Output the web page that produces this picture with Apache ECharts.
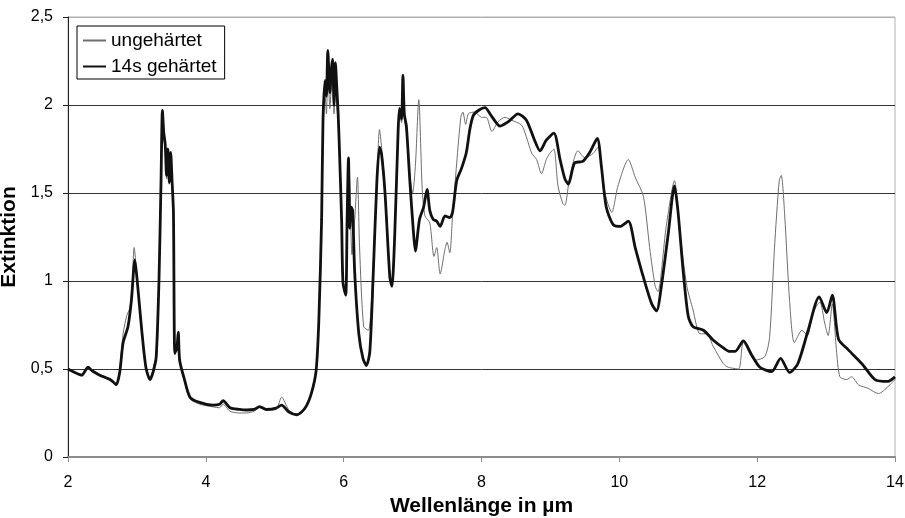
<!DOCTYPE html>
<html>
<head>
<meta charset="utf-8">
<script src="https://cdn.jsdelivr.net/npm/echarts@6/dist/echarts.min.js"></script>
<style>
  html, body { margin: 0; padding: 0; background: #fff; }
  #chart { width: 905px; height: 518px; }
</style>
</head>
<body>
<div id="chart"></div>
<script>
// Extinction spectra: untreated sample vs. sample cured for 14 s
const seriesNames = ['ungehärtet', '14s gehärtet'];

const xTicks = [2, 4, 6, 8, 10, 12, 14];
const yTicks = [0, 0.5, 1, 1.5, 2, 2.5];

// ungehärtet — wavelength (µm) and extinction
const untreatedX = [
  2.00, 2.10, 2.20, 2.25, 2.29, 2.35, 2.46, 2.55, 2.61, 2.66, 2.70, 2.75, 2.80, 2.85, 2.90, 2.93, 2.96, 3.00,
  3.07, 3.13, 3.19, 3.25, 3.29, 3.32, 3.35, 3.37, 3.39, 3.41, 3.43, 3.45, 3.47, 3.49, 3.51, 3.53, 3.55, 3.60,
  3.62, 3.69, 3.77, 3.91, 4.10, 4.20, 4.25, 4.35, 4.49, 4.59, 4.70, 4.78, 4.88, 5.02, 5.10, 5.20, 5.32, 5.44,
  5.53, 5.60, 5.64, 5.68, 5.70, 5.73, 5.75, 5.77, 5.80, 5.82, 5.84, 5.86, 5.88, 5.90, 5.92, 5.94, 5.97, 5.99,
  6.03, 6.05, 6.07, 6.09, 6.12, 6.16, 6.20, 6.23, 6.29, 6.36, 6.42, 6.48, 6.52, 6.55, 6.60, 6.67, 6.70, 6.74,
  6.79, 6.81, 6.84, 6.86, 6.88, 6.91, 6.96, 7.00, 7.04, 7.09, 7.14, 7.18, 7.25, 7.31, 7.35, 7.40, 7.47, 7.50,
  7.54, 7.58, 7.64, 7.70, 7.73, 7.77, 7.81, 7.90, 8.00, 8.07, 8.15, 8.24, 8.34, 8.43, 8.58, 8.65, 8.73, 8.80,
  8.87, 8.94, 8.99, 9.05, 9.11, 9.18, 9.21, 9.28, 9.40, 9.50, 9.62, 9.69, 9.79, 9.89, 9.98, 10.13, 10.23, 10.35,
  10.44, 10.52, 10.56, 10.68, 10.80, 10.88, 10.98, 11.07, 11.17, 11.27, 11.36, 11.51, 11.58, 11.73, 11.80, 11.97, 12.11, 12.18,
  12.25, 12.32, 12.35, 12.40, 12.47, 12.54, 12.65, 12.73, 12.81, 12.91, 12.98, 13.03, 13.09, 13.15, 13.20, 13.30, 13.37, 13.47,
  13.61, 13.76, 13.90, 14.00
];
const untreatedY = [
  0.50, 0.48, 0.47, 0.49, 0.50, 0.49, 0.47, 0.455, 0.445, 0.43, 0.415, 0.50, 0.70, 0.80, 0.85, 0.98, 1.19, 1.02,
  0.72, 0.50, 0.44, 0.53, 0.58, 1.00, 1.55, 1.95, 1.80, 1.76, 1.58, 1.72, 1.55, 1.70, 1.55, 1.35, 0.58, 0.68,
  0.54, 0.43, 0.33, 0.30, 0.285, 0.28, 0.30, 0.26, 0.25, 0.25, 0.26, 0.28, 0.265, 0.27, 0.34, 0.27, 0.235, 0.27,
  0.36, 0.49, 0.78, 1.35, 1.90, 2.05, 1.95, 2.22, 1.98, 2.10, 2.18, 1.95, 2.12, 2.00, 1.90, 1.70, 1.33, 1.00,
  0.95, 1.40, 1.70, 1.55, 1.15, 1.35, 1.59, 1.20, 0.74, 0.72, 1.02, 1.55, 1.86, 1.76, 1.52, 1.03, 0.98, 1.25,
  1.85, 1.95, 1.90, 2.00, 1.92, 1.85, 1.60, 1.50, 1.65, 2.03, 1.52, 1.37, 1.33, 1.14, 1.19, 1.04, 1.18, 1.22,
  1.16, 1.37, 1.67, 1.93, 1.96, 1.89, 1.95, 1.96, 1.93, 1.93, 1.85, 1.905, 1.93, 1.915, 1.886, 1.82, 1.725, 1.69,
  1.61, 1.69, 1.725, 1.75, 1.54, 1.44, 1.43, 1.59, 1.74, 1.70, 1.725, 1.76, 1.50, 1.39, 1.54, 1.69, 1.59, 1.48,
  1.19, 0.97, 0.94, 1.31, 1.57, 1.27, 0.97, 0.835, 0.70, 0.70, 0.63, 0.53, 0.51, 0.50, 0.65, 0.55, 0.57, 0.68,
  1.18, 1.57, 1.60, 1.37, 0.89, 0.65, 0.72, 0.69, 0.82, 0.88, 0.76, 0.69, 0.87, 0.61, 0.456, 0.44, 0.456, 0.41,
  0.39, 0.36, 0.40, 0.44
];

// 14s gehärtet — wavelength (µm) and extinction
const curedX = [
  2.00, 2.10, 2.20, 2.25, 2.29, 2.35, 2.46, 2.55, 2.61, 2.66, 2.70, 2.75, 2.80, 2.87, 2.92, 2.97, 3.00, 3.07,
  3.13, 3.19, 3.24, 3.28, 3.32, 3.35, 3.37, 3.39, 3.41, 3.43, 3.45, 3.47, 3.49, 3.51, 3.53, 3.55, 3.58, 3.60,
  3.62, 3.69, 3.77, 3.91, 4.10, 4.20, 4.25, 4.35, 4.49, 4.59, 4.70, 4.78, 4.88, 5.02, 5.10, 5.20, 5.32, 5.44,
  5.53, 5.60, 5.64, 5.68, 5.70, 5.73, 5.75, 5.77, 5.80, 5.82, 5.84, 5.86, 5.88, 5.90, 5.92, 5.94, 5.97, 5.99,
  6.03, 6.05, 6.07, 6.09, 6.11, 6.13, 6.16, 6.22, 6.28, 6.33, 6.38, 6.43, 6.48, 6.52, 6.55, 6.60, 6.67, 6.70,
  6.74, 6.79, 6.81, 6.84, 6.86, 6.88, 6.91, 6.96, 7.01, 7.04, 7.10, 7.16, 7.21, 7.25, 7.30, 7.35, 7.40, 7.47,
  7.54, 7.58, 7.64, 7.71, 7.78, 7.83, 7.88, 7.96, 8.05, 8.14, 8.27, 8.39, 8.53, 8.65, 8.77, 8.85, 8.94, 9.05,
  9.14, 9.21, 9.26, 9.35, 9.47, 9.57, 9.68, 9.74, 9.81, 9.91, 10.01, 10.13, 10.23, 10.35, 10.47, 10.54, 10.61, 10.71,
  10.80, 10.85, 10.93, 11.00, 11.07, 11.22, 11.36, 11.51, 11.60, 11.68, 11.80, 11.92, 12.04, 12.21, 12.34, 12.47, 12.59, 12.74,
  12.90, 13.01, 13.09, 13.18, 13.32, 13.52, 13.71, 13.90, 14.00
];
const curedY = [
  0.50, 0.48, 0.465, 0.49, 0.51, 0.49, 0.465, 0.45, 0.44, 0.425, 0.41, 0.48, 0.65, 0.74, 0.89, 1.12, 1.02, 0.72,
  0.51, 0.44, 0.49, 0.57, 1.00, 1.57, 1.97, 1.84, 1.78, 1.60, 1.75, 1.56, 1.73, 1.57, 1.39, 0.59, 0.62, 0.71,
  0.55, 0.44, 0.34, 0.31, 0.295, 0.30, 0.32, 0.28, 0.27, 0.267, 0.27, 0.286, 0.27, 0.278, 0.295, 0.257, 0.24, 0.278,
  0.36, 0.49, 0.78, 1.35, 1.91, 2.14, 2.05, 2.31, 2.07, 2.20, 2.26, 2.00, 2.24, 2.10, 1.95, 1.73, 1.35, 0.99,
  0.92, 1.35, 1.70, 1.30, 1.42, 1.40, 1.05, 0.70, 0.56, 0.52, 0.60, 1.05, 1.55, 1.76, 1.72, 1.50, 1.02, 0.97,
  1.25, 1.85, 1.98, 1.92, 2.17, 1.95, 1.88, 1.57, 1.29, 1.17, 1.35, 1.42, 1.52, 1.40, 1.35, 1.34, 1.31, 1.37,
  1.36, 1.39, 1.57, 1.64, 1.73, 1.86, 1.94, 1.97, 1.985, 1.94, 1.88, 1.905, 1.95, 1.915, 1.80, 1.74, 1.80, 1.84,
  1.69, 1.58, 1.55, 1.67, 1.68, 1.73, 1.81, 1.65, 1.42, 1.32, 1.31, 1.34, 1.19, 1.02, 0.87, 0.83, 0.97, 1.27,
  1.54, 1.40, 1.04, 0.80, 0.74, 0.72, 0.665, 0.62, 0.60, 0.60, 0.66, 0.58, 0.51, 0.485, 0.56, 0.48, 0.53, 0.72,
  0.91, 0.82, 0.92, 0.67, 0.61, 0.53, 0.44, 0.43, 0.455
];

const zip = (xs, ys) => xs.map((x, i) => [x, ys[i]]);
const font = '"Liberation Sans", Arial, sans-serif';

const chart = echarts.init(document.getElementById('chart'), null, { renderer: 'canvas' });

chart.setOption({
  animation: false,
  backgroundColor: '#ffffff',
  textStyle: { fontFamily: font, color: '#000' },
  grid: {
    left: 68, right: 10, top: 17, bottom: 61,
    outerBoundsMode: 'none',
    containLabel: false,
    show: true, borderColor: '#b0b0b0', borderWidth: 1, backgroundColor: '#ffffff'
  },
  legend: {
    left: 77, top: 26,
    orient: 'vertical',
    backgroundColor: '#ffffff',
    borderColor: '#000', borderWidth: 1,
    padding: [5, 8, 3, 5],
    itemGap: 7,
    itemWidth: 23, itemHeight: 14,
    itemStyle: { opacity: 0, borderWidth: 0 },
    textStyle: { fontFamily: font, fontSize: 19, color: '#000' },
    data: seriesNames
  },
  xAxis: {
    type: 'value',
    min: xTicks[0], max: xTicks[xTicks.length - 1], interval: 2,
    name: 'Wellenlänge in µm',
    nameLocation: 'middle', nameGap: 38,
    nameTextStyle: { fontFamily: font, fontSize: 21, fontWeight: 'bold', color: '#000' },
    axisLine: { show: true, onZero: false, lineStyle: { color: '#8c8c8c', width: 2 } },
    axisTick: { show: true, length: 5, lineStyle: { color: '#8c8c8c', width: 1 } },
    axisLabel: { fontFamily: font, fontSize: 16, color: '#000', margin: 18,
      formatter: v => xTicks.includes(v) ? String(v) : '' },
    splitLine: { show: false }
  },
  yAxis: {
    type: 'value',
    min: yTicks[0], max: yTicks[yTicks.length - 1], interval: 0.5,
    name: 'Extinktion',
    nameLocation: 'middle', nameGap: 37,
    nameTextStyle: { fontFamily: font, fontSize: 21, fontWeight: 'bold', color: '#000' },
    axisLine: { show: true, lineStyle: { color: '#222', width: 1 } },
    axisTick: { show: true, length: 5, lineStyle: { color: '#222', width: 1 } },
    axisLabel: { fontFamily: font, fontSize: 16, color: '#000', margin: 15,
      formatter: v => String(v).replace('.', ',') },
    splitLine: { show: true, lineStyle: { color: ['#333', '#333', '#333', '#333', '#333', '#b0b0b0'], width: 1 } }
  },
  series: [
    {
      name: seriesNames[0],
      type: 'line',
      data: zip(untreatedX, untreatedY),
      symbol: 'none',
      smooth: 0.25,
      lineStyle: { color: '#6e6e6e', width: 1 },
      itemStyle: { color: '#6e6e6e' },
      z: 2
    },
    {
      name: seriesNames[1],
      type: 'line',
      data: zip(curedX, curedY),
      symbol: 'none',
      smooth: 0.25,
      lineStyle: { color: '#111', width: 2.8 },
      itemStyle: { color: '#111' },
      z: 3
    }
  ]
});
</script>
</body>
</html>
